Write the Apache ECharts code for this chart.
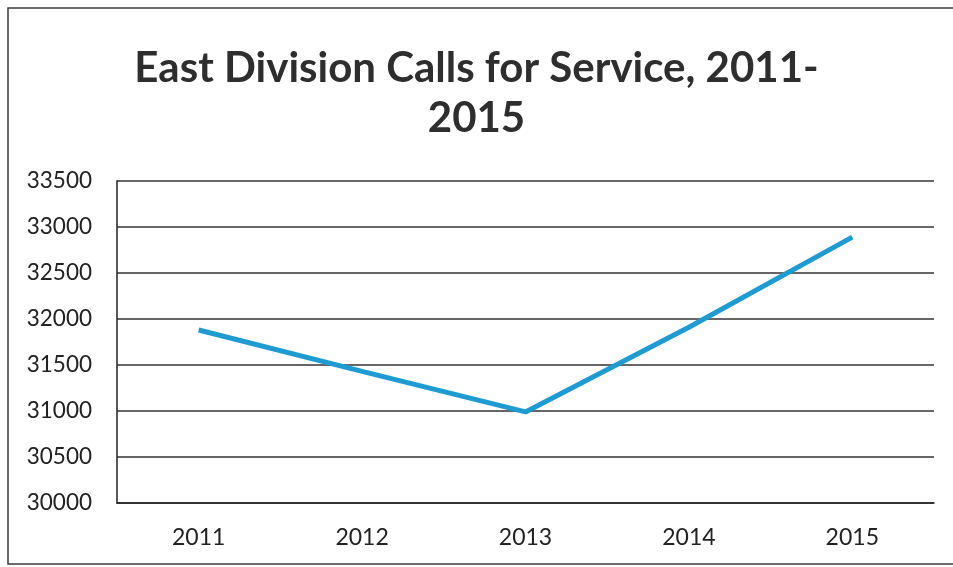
<!DOCTYPE html>
<html>
<head>
<meta charset="utf-8">
<script src="https://cdn.jsdelivr.net/npm/echarts@6/dist/echarts.min.js"></script>
<style>
html,body{margin:0;padding:0;background:#fff;}
#chart{width:953px;height:567px;}
</style>
</head>
<body>
<div id="chart"></div>
<script>
var titleText = "East Division Calls for Service, 2011-\n2015";
var years = ["2011", "2012", "2013", "2014", "2015"];
var calls = [31880, 31430, 30990, 31910, 32890];
var yMin = 30000, yMax = 33500, yStep = 500;

var chart = echarts.init(document.getElementById('chart'), null, {renderer: 'canvas'});
chart.setOption({
  backgroundColor: '#ffffff',
  animation: false,
  title: {
    text: titleText,
    left: 'center',
    top: 38,
    textStyle: {
      fontFamily: 'Lato',
      fontWeight: 'bold',
      fontSize: 42,
      color: '#2e2e2e',
      lineHeight: 50
    }
  },
  graphic: [{
    type: 'rect',
    shape: {x: 8, y: 8, width: 960, height: 556},
    style: {fill: 'none', stroke: '#3a3a3a', lineWidth: 1.5},
    silent: true
  }],
  grid: {left: 117, right: 19, top: 181, bottom: 64, containLabel: false},
  xAxis: {
    type: 'category',
    data: years,
    boundaryGap: true,
    axisLine: {show: true, lineStyle: {color: '#222', width: 1.5}},
    axisTick: {show: false},
    axisLabel: {
      fontFamily: 'Lato',
      fontSize: 23,
      color: '#222',
      margin: 23
    }
  },
  yAxis: {
    type: 'value',
    min: yMin,
    max: yMax,
    interval: yStep,
    axisLine: {show: true, lineStyle: {color: '#222', width: 1.5}},
    axisTick: {show: false},
    axisLabel: {
      fontFamily: 'Lato',
      fontSize: 22.5,
      color: '#222',
      margin: 25,
      formatter: function (v) { return String(v); }
    },
    splitLine: {show: true, lineStyle: {color: '#333', width: 1.5}}
  },
  series: [{
    type: 'line',
    data: calls,
    symbol: 'none',
    lineStyle: {color: '#1f9bd4', width: 5},
    itemStyle: {color: '#1f9bd4'}
  }]
});
</script>
</body>
</html>
